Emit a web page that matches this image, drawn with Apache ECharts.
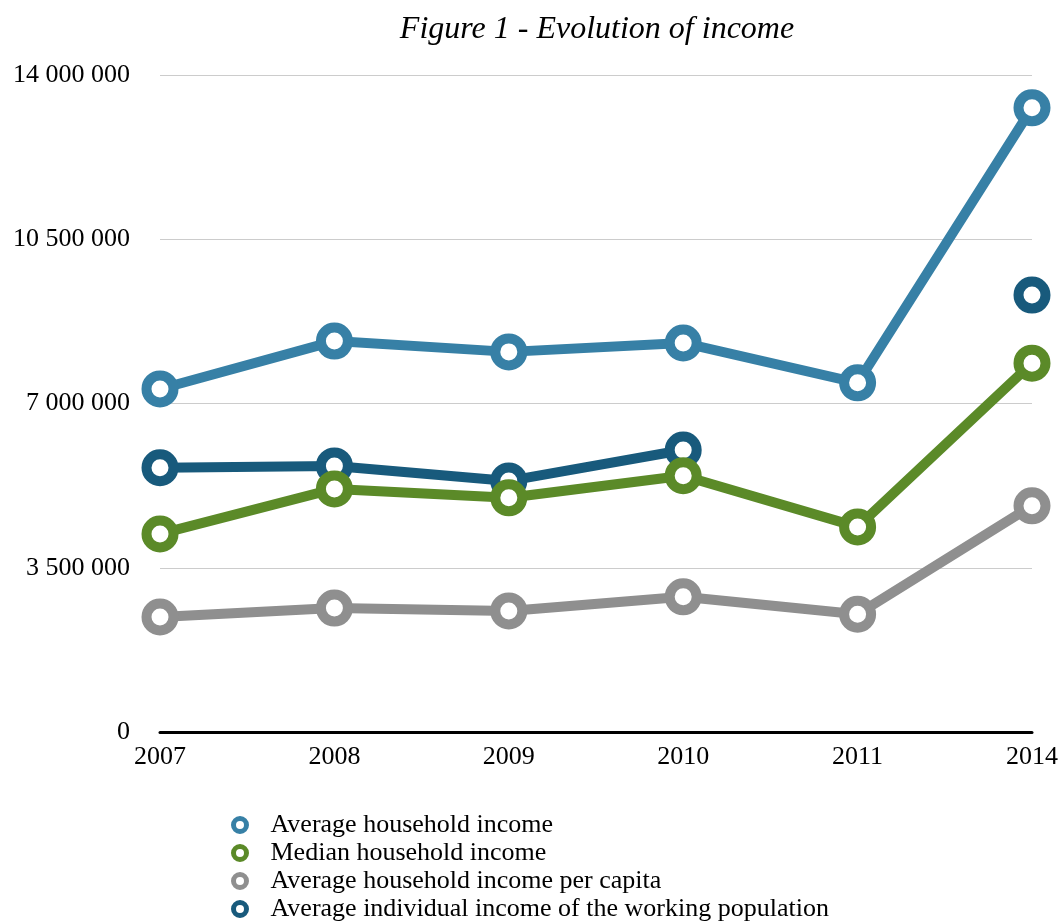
<!DOCTYPE html>
<html>
<head>
<meta charset="utf-8">
<title>Figure 1 - Evolution of income</title>
<script src="https://cdn.jsdelivr.net/npm/echarts@6/dist/echarts.min.js"></script>
<style>
  html, body { margin: 0; padding: 0; background: #ffffff; }
  #chart { width: 1061px; height: 922px; }
</style>
</head>
<body>
<div id="chart"></div>
<script>
// data
const years = ['2007', '2008', '2009', '2010', '2011', '2014'];
const avgHousehold = [7310000, 8330000, 8100000, 8290000, 7440000, 13300000];
const medianHousehold = [4220000, 5180000, 4990000, 5460000, 4370000, 7860000];
const perCapita = [2450000, 2640000, 2580000, 2880000, 2510000, 4820000];
const workingPop = [5630000, 5670000, 5350000, 6010000, null, 9310000];
const yTicks = [0, 3500000, 7000000, 10500000, 14000000];

const names = [
  'Average household income',
  'Median household income',
  'Average household income per capita',
  'Average individual income of the working population'
];
const colors = ['#3780a6', '#5b8a28', '#8f8f8f', '#185a7c'];

const font = '"Liberation Serif", "DejaVu Serif", serif';

function fmt(v) {
  return String(v).replace(/\B(?=(\d{3})+(?!\d))/g, ' ');
}

function makeSeries(idx, values, z) {
  return {
    name: names[idx],
    type: 'line',
    data: values,
    z: z,
    symbol: 'circle',
    symbolSize: 27,
    showAllSymbol: true,
    lineStyle: { color: colors[idx], width: 10 },
    itemStyle: { color: '#ffffff', borderColor: colors[idx], borderWidth: 10 },
    emphasis: { disabled: true }
  };
}

const myChart = echarts.init(document.getElementById('chart'));
const option = {
  backgroundColor: '#ffffff',
  animation: false,
  title: {
    text: 'Figure 1 - Evolution of income',
    left: 592,
    top: 9,
    textAlign: 'center',
    textStyle: { fontFamily: font, fontStyle: 'italic', fontWeight: 'normal', fontSize: 32, color: '#000' }
  },
  legend: {
    orient: 'vertical',
    left: 231,
    top: 811,
    height: 120,
    padding: 0,
    itemGap: 0,
    itemWidth: 13,
    itemHeight: 13,
    icon: 'circle',
    textStyle: { fontFamily: font, fontSize: 26, lineHeight: 28, color: '#000', padding: [0, 0, 0, 19] },
    data: names.map((n, i) => ({
      name: n,
      itemStyle: { color: '#ffffff', borderColor: colors[i], borderWidth: 5 }
    }))
  },
  grid: { left: 160, right: 29, top: 75, bottom: 190 },
  xAxis: {
    type: 'category',
    data: years,
    boundaryGap: false,
    axisLine: { lineStyle: { color: '#000', width: 3 } },
    axisTick: { show: false },
    axisLabel: { fontFamily: font, fontSize: 26, color: '#000', margin: 12, showMaxLabel: true, showMinLabel: true },
    splitLine: { show: false }
  },
  yAxis: {
    type: 'value',
    min: yTicks[0],
    max: yTicks[yTicks.length - 1],
    interval: yTicks[1] - yTicks[0],
    axisLine: { show: false },
    axisTick: { show: false },
    axisLabel: { fontFamily: font, fontSize: 26, color: '#000', margin: 30, formatter: fmt },
    splitLine: { lineStyle: { color: '#cccccc', width: 1 } }
  },
  series: [
    makeSeries(3, workingPop, 1),
    makeSeries(0, avgHousehold, 2),
    makeSeries(1, medianHousehold, 3),
    makeSeries(2, perCapita, 2)
  ]
};

myChart.setOption(option);
window.onresize = () => myChart.resize();
</script>
</body>
</html>
